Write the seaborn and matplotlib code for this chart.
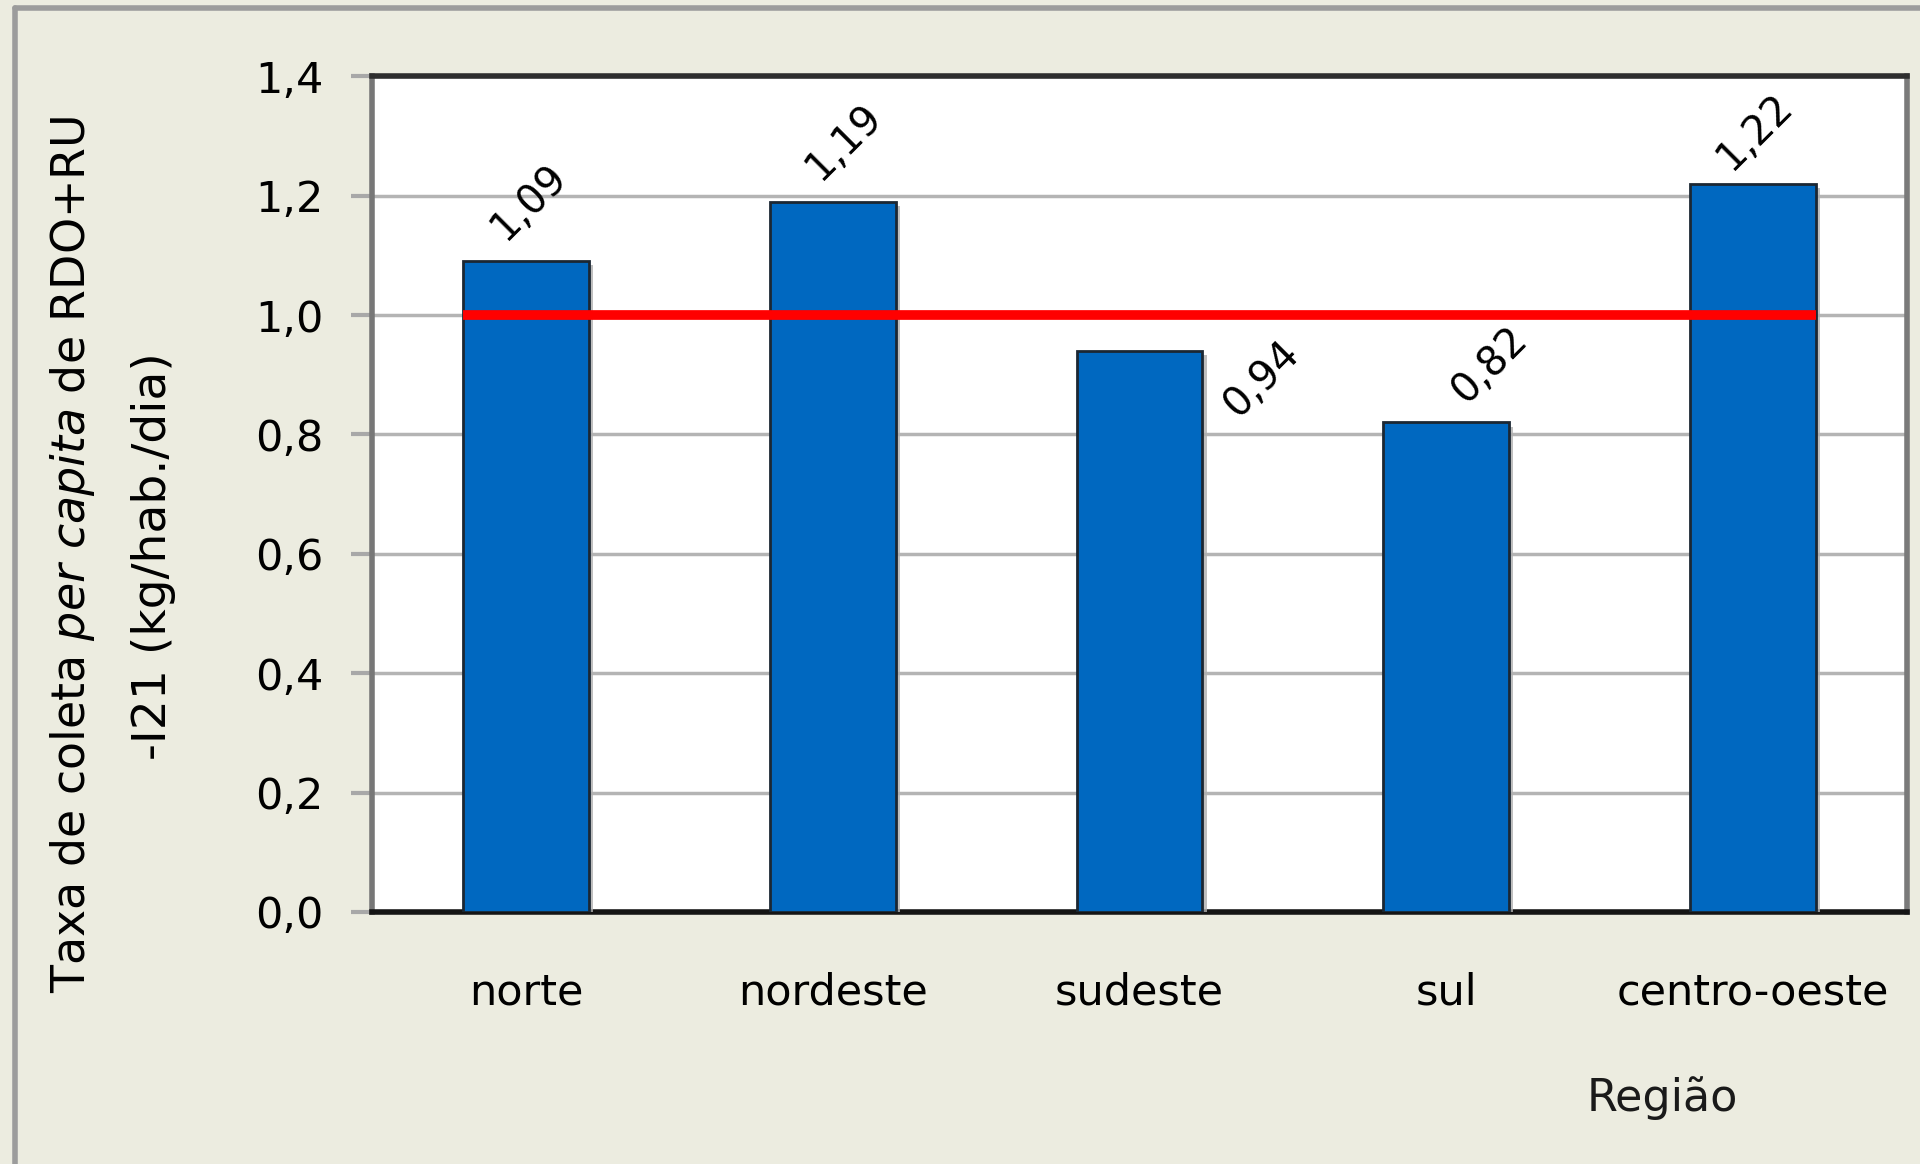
import matplotlib
matplotlib.use("Agg")
import matplotlib.pyplot as plt
import matplotlib.patheffects as pe
import seaborn as sns
import pandas as pd

# dados
regioes = ["norte", "nordeste", "sudeste", "sul", "centro-oeste"]
taxa = [1.09, 1.19, 0.94, 0.82, 1.22]
rotulos = ["1,09", "1,19", "0,94", "0,82", "1,22"]
referencia = 1.0
yticks = [0.0, 0.2, 0.4, 0.6, 0.8, 1.0, 1.2, 1.4]
ytick_labels = ["0,0", "0,2", "0,4", "0,6", "0,8", "1,0", "1,2", "1,4"]

# deslocamento dos rótulos (pontos)
offsets = [(2, 43), (8, 43), (88, -20), (31, 41), (1, 37)]

sns.set_style("white")
plt.rcParams["font.family"] = ["DejaVu Sans"]
plt.rcParams["mathtext.fontset"] = "dejavusans"
plt.rcParams["text.color"] = "black"
plt.rcParams["xtick.labelcolor"] = "black"
plt.rcParams["ytick.labelcolor"] = "black"

df = pd.DataFrame({"regiao": regioes, "taxa": taxa})

fig = plt.figure(figsize=(19.2, 11.64), dpi=100, facecolor="#ecece0")
ax = fig.add_axes([0.194, 0.2165, 0.799, 0.718])
ax.set_facecolor("white")

largura = 0.41
sns.barplot(data=df, x="regiao", y="taxa", color="#0068c0", width=largura,
            edgecolor="#1b2733", linewidth=2, saturation=1, ax=ax, zorder=3)
for p in ax.patches:
    p.set_path_effects([pe.SimplePatchShadow(offset=(3, -3), shadow_rgbFace="#b0b0b0", alpha=0.8),
                        pe.Normal()])

# linha de referência
ax.hlines(referencia, 0 - largura / 2, len(regioes) - 1 + largura / 2,
          color="#ff0000", linewidth=7, zorder=4)

for i, (v, t) in enumerate(zip(taxa, rotulos)):
    ax.annotate(t, (i, v), xytext=offsets[i], textcoords="offset points",
                ha="center", va="center", rotation=45, rotation_mode="anchor",
                fontsize=29, color="black", zorder=5)

ax.set_xlim(-0.5, len(regioes) - 0.5)
ax.set_ylim(0, 1.4)
ax.set_yticks(yticks)
ax.set_yticklabels(ytick_labels, fontsize=31)
ax.yaxis.grid(True, color="#b4b4b4", linewidth=2.5, zorder=0)
ax.set_axisbelow(True)

ax.set_xticks(range(len(regioes)))
ax.set_xticklabels(regioes, fontsize=31)
ax.set_xticks([i + 0.5 for i in range(-1, len(regioes))], minor=True)
ax.tick_params(axis="x", which="major", length=0, pad=43)
ax.tick_params(axis="x", which="minor", length=15, width=3, color="#808080", direction="out")
ax.tick_params(axis="y", which="major", length=15, width=3, color="#a8a8a8",
               direction="out", pad=20, left=True)
ax.set_xlabel("")
ax.set_ylabel("")

ax.spines["left"].set_color("#777777")
ax.spines["left"].set_linewidth(4)
ax.spines["bottom"].set_color("#151515")
ax.spines["bottom"].set_linewidth(4)
ax.spines["top"].set_color("#2e2e2e")
ax.spines["top"].set_linewidth(4)
ax.spines["right"].set_color("#7a7a7a")
ax.spines["right"].set_linewidth(4)

# rótulos dos eixos
fig.text(0.038, 0.524, r"Taxa de coleta $\mathit{per\ capita}$ de RDO+RU",
         rotation=90, ha="center", va="center", fontsize=33)
fig.text(0.0797, 0.522, "-I21 (kg/hab./dia)",
         rotation=90, ha="center", va="center", fontsize=34)
fig.text(0.866, 0.057, "Região", ha="center", va="center", fontsize=32, color="#1a1a1a")

# moldura
fig.add_artist(plt.Line2D([0.0078, 0.0078], [0, 0.9935], color="#9c9c9c", linewidth=4))
fig.add_artist(plt.Line2D([0.0078, 1], [0.9935, 0.9935], color="#9c9c9c", linewidth=4))

plt.savefig("out.png", dpi=100, facecolor=fig.get_facecolor())
plt.close()
